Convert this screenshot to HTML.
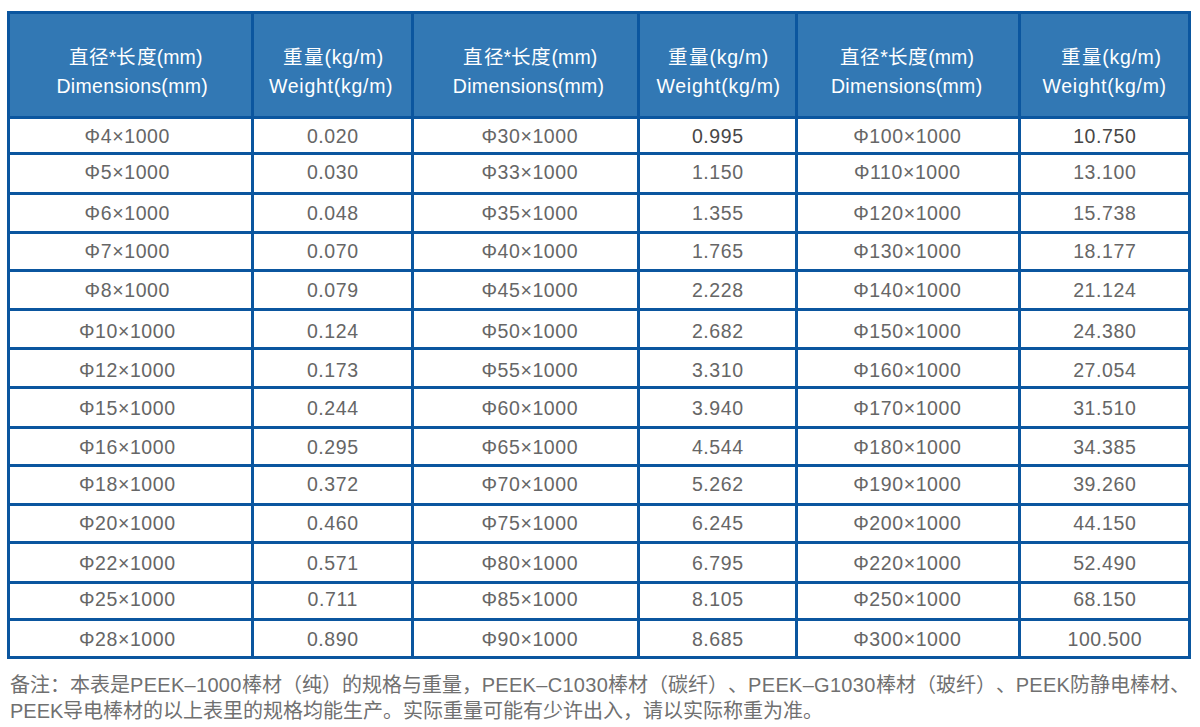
<!DOCTYPE html>
<html lang="zh-CN"><head><meta charset="utf-8">
<style>
html,body{margin:0;padding:0;background:#fff;}
body{width:1200px;height:727px;position:relative;overflow:hidden;font-family:"Liberation Sans",sans-serif;}
.a{position:absolute;}
.b{position:absolute;background:#0b569f;}
.c{position:absolute;text-align:center;white-space:nowrap;color:#666666;font-size:19.5px;line-height:20px;height:20px;letter-spacing:0.6px;}
.h{position:absolute;white-space:nowrap;color:#fff;font-size:19.5px;text-align:center;line-height:20px;height:20px;}
.f{position:absolute;left:10px;white-space:nowrap;color:#707070;font-size:20px;line-height:20px;}
.f span{letter-spacing:0.3px;}
.f{text-spacing-trim:space-all;}
i{display:inline-block;width:20px;font-style:normal;text-align:left;letter-spacing:0;}
</style></head><body>

<div class="a" style="left:7px;top:11px;width:1184px;height:108px;background:#3278b4"></div>
<div class="h" style="left:15.05px;width:241px;top:47.0px;letter-spacing:0.10px"><i style="width:20.10px">直</i><i style="width:20.10px">径</i>*<i style="width:20.10px">长</i><i style="width:20.10px">度</i>(mm)</div>
<div class="h" style="left:11.75px;width:241px;top:76.0px;letter-spacing:0.30px">Dimensions(mm)</div>
<div class="h" style="left:255.00px;width:157px;top:47.0px;letter-spacing:0.69px"><i style="width:20.69px">重</i><i style="width:20.69px">量</i>(kg/m)</div>
<div class="h" style="left:252.67px;width:157px;top:76.0px;letter-spacing:0.73px">Weight(kg/m)</div>
<div class="h" style="left:418.90px;width:223px;top:47.0px;letter-spacing:0.10px"><i style="width:20.10px">直</i><i style="width:20.10px">径</i>*<i style="width:20.10px">长</i><i style="width:20.10px">度</i>(mm)</div>
<div class="h" style="left:417.15px;width:223px;top:76.0px;letter-spacing:0.30px">Dimensions(mm)</div>
<div class="h" style="left:641.14px;width:155px;top:47.0px;letter-spacing:0.69px"><i style="width:20.69px">重</i><i style="width:20.69px">量</i>(kg/m)</div>
<div class="h" style="left:641.16px;width:155px;top:76.0px;letter-spacing:0.73px">Weight(kg/m)</div>
<div class="h" style="left:797.05px;width:220px;top:47.0px;letter-spacing:0.10px"><i style="width:20.10px">直</i><i style="width:20.10px">径</i>*<i style="width:20.10px">长</i><i style="width:20.10px">度</i>(mm)</div>
<div class="h" style="left:796.70px;width:220px;top:76.0px;letter-spacing:0.30px">Dimensions(mm)</div>
<div class="h" style="left:1027.85px;width:167px;top:47.0px;letter-spacing:0.69px"><i style="width:20.69px">重</i><i style="width:20.69px">量</i>(kg/m)</div>
<div class="h" style="left:1021.16px;width:167px;top:76.0px;letter-spacing:0.73px">Weight(kg/m)</div>
<div class="c" style="left:6.80px;width:241px;top:125.5px;">Φ4×1000</div>
<div class="c" style="left:254.30px;width:157px;top:125.5px;">0.020</div>
<div class="c" style="left:418.30px;width:223px;top:125.5px;">Φ30×1000</div>
<div class="c" style="left:640.30px;width:155px;top:125.5px;color:#474747;">0.995</div>
<div class="c" style="left:797.30px;width:220px;top:125.5px;">Φ100×1000</div>
<div class="c" style="left:1021.30px;width:167px;top:125.5px;color:#474747;">10.750</div>
<div class="c" style="left:6.80px;width:241px;top:161.7px;">Φ5×1000</div>
<div class="c" style="left:254.30px;width:157px;top:161.7px;">0.030</div>
<div class="c" style="left:418.30px;width:223px;top:161.7px;">Φ33×1000</div>
<div class="c" style="left:640.30px;width:155px;top:161.7px;">1.150</div>
<div class="c" style="left:797.30px;width:220px;top:161.7px;">Φ110×1000</div>
<div class="c" style="left:1021.30px;width:167px;top:161.7px;">13.100</div>
<div class="c" style="left:6.80px;width:241px;top:202.5px;">Φ6×1000</div>
<div class="c" style="left:254.30px;width:157px;top:202.5px;">0.048</div>
<div class="c" style="left:418.30px;width:223px;top:202.5px;">Φ35×1000</div>
<div class="c" style="left:640.30px;width:155px;top:202.5px;">1.355</div>
<div class="c" style="left:797.30px;width:220px;top:202.5px;">Φ120×1000</div>
<div class="c" style="left:1021.30px;width:167px;top:202.5px;">15.738</div>
<div class="c" style="left:6.80px;width:241px;top:240.5px;">Φ7×1000</div>
<div class="c" style="left:254.30px;width:157px;top:240.5px;">0.070</div>
<div class="c" style="left:418.30px;width:223px;top:240.5px;">Φ40×1000</div>
<div class="c" style="left:640.30px;width:155px;top:240.5px;">1.765</div>
<div class="c" style="left:797.30px;width:220px;top:240.5px;">Φ130×1000</div>
<div class="c" style="left:1021.30px;width:167px;top:240.5px;">18.177</div>
<div class="c" style="left:6.80px;width:241px;top:279.5px;">Φ8×1000</div>
<div class="c" style="left:254.30px;width:157px;top:279.5px;">0.079</div>
<div class="c" style="left:418.30px;width:223px;top:279.5px;">Φ45×1000</div>
<div class="c" style="left:640.30px;width:155px;top:279.5px;">2.228</div>
<div class="c" style="left:797.30px;width:220px;top:279.5px;">Φ140×1000</div>
<div class="c" style="left:1021.30px;width:167px;top:279.5px;">21.124</div>
<div class="c" style="left:6.80px;width:241px;top:320.6px;">Φ10×1000</div>
<div class="c" style="left:254.30px;width:157px;top:320.6px;">0.124</div>
<div class="c" style="left:418.30px;width:223px;top:320.6px;">Φ50×1000</div>
<div class="c" style="left:640.30px;width:155px;top:320.6px;">2.682</div>
<div class="c" style="left:797.30px;width:220px;top:320.6px;">Φ150×1000</div>
<div class="c" style="left:1021.30px;width:167px;top:320.6px;">24.380</div>
<div class="c" style="left:6.80px;width:241px;top:359.6px;">Φ12×1000</div>
<div class="c" style="left:254.30px;width:157px;top:359.6px;">0.173</div>
<div class="c" style="left:418.30px;width:223px;top:359.6px;">Φ55×1000</div>
<div class="c" style="left:640.30px;width:155px;top:359.6px;">3.310</div>
<div class="c" style="left:797.30px;width:220px;top:359.6px;">Φ160×1000</div>
<div class="c" style="left:1021.30px;width:167px;top:359.6px;">27.054</div>
<div class="c" style="left:6.80px;width:241px;top:398.1px;">Φ15×1000</div>
<div class="c" style="left:254.30px;width:157px;top:398.1px;">0.244</div>
<div class="c" style="left:418.30px;width:223px;top:398.1px;">Φ60×1000</div>
<div class="c" style="left:640.30px;width:155px;top:398.1px;">3.940</div>
<div class="c" style="left:797.30px;width:220px;top:398.1px;">Φ170×1000</div>
<div class="c" style="left:1021.30px;width:167px;top:398.1px;">31.510</div>
<div class="c" style="left:6.80px;width:241px;top:437.1px;">Φ16×1000</div>
<div class="c" style="left:254.30px;width:157px;top:437.1px;">0.295</div>
<div class="c" style="left:418.30px;width:223px;top:437.1px;">Φ65×1000</div>
<div class="c" style="left:640.30px;width:155px;top:437.1px;">4.544</div>
<div class="c" style="left:797.30px;width:220px;top:437.1px;">Φ180×1000</div>
<div class="c" style="left:1021.30px;width:167px;top:437.1px;">34.385</div>
<div class="c" style="left:6.80px;width:241px;top:474.3px;">Φ18×1000</div>
<div class="c" style="left:254.30px;width:157px;top:474.3px;">0.372</div>
<div class="c" style="left:418.30px;width:223px;top:474.3px;">Φ70×1000</div>
<div class="c" style="left:640.30px;width:155px;top:474.3px;">5.262</div>
<div class="c" style="left:797.30px;width:220px;top:474.3px;">Φ190×1000</div>
<div class="c" style="left:1021.30px;width:167px;top:474.3px;">39.260</div>
<div class="c" style="left:6.80px;width:241px;top:512.8px;">Φ20×1000</div>
<div class="c" style="left:254.30px;width:157px;top:512.8px;">0.460</div>
<div class="c" style="left:418.30px;width:223px;top:512.8px;">Φ75×1000</div>
<div class="c" style="left:640.30px;width:155px;top:512.8px;">6.245</div>
<div class="c" style="left:797.30px;width:220px;top:512.8px;">Φ200×1000</div>
<div class="c" style="left:1021.30px;width:167px;top:512.8px;">44.150</div>
<div class="c" style="left:6.80px;width:241px;top:552.5px;">Φ22×1000</div>
<div class="c" style="left:254.30px;width:157px;top:552.5px;">0.571</div>
<div class="c" style="left:418.30px;width:223px;top:552.5px;">Φ80×1000</div>
<div class="c" style="left:640.30px;width:155px;top:552.5px;">6.795</div>
<div class="c" style="left:797.30px;width:220px;top:552.5px;">Φ220×1000</div>
<div class="c" style="left:1021.30px;width:167px;top:552.5px;">52.490</div>
<div class="c" style="left:6.80px;width:241px;top:589.4px;">Φ25×1000</div>
<div class="c" style="left:254.30px;width:157px;top:589.4px;">0.711</div>
<div class="c" style="left:418.30px;width:223px;top:589.4px;">Φ85×1000</div>
<div class="c" style="left:640.30px;width:155px;top:589.4px;">8.105</div>
<div class="c" style="left:797.30px;width:220px;top:589.4px;">Φ250×1000</div>
<div class="c" style="left:1021.30px;width:167px;top:589.4px;">68.150</div>
<div class="c" style="left:6.80px;width:241px;top:628.5px;">Φ28×1000</div>
<div class="c" style="left:254.30px;width:157px;top:628.5px;">0.890</div>
<div class="c" style="left:418.30px;width:223px;top:628.5px;">Φ90×1000</div>
<div class="c" style="left:640.30px;width:155px;top:628.5px;">8.685</div>
<div class="c" style="left:797.30px;width:220px;top:628.5px;">Φ300×1000</div>
<div class="c" style="left:1021.30px;width:167px;top:628.5px;">100.500</div>
<div class="b" style="left:7px;top:11px;width:3px;height:648px"></div>
<div class="b" style="left:251px;top:11px;width:3px;height:648px"></div>
<div class="b" style="left:411px;top:11px;width:3px;height:648px"></div>
<div class="b" style="left:637px;top:11px;width:3px;height:648px"></div>
<div class="b" style="left:795px;top:11px;width:3px;height:648px"></div>
<div class="b" style="left:1018px;top:11px;width:3px;height:648px"></div>
<div class="b" style="left:1188px;top:11px;width:3px;height:648px"></div>
<div class="b" style="left:7px;top:11px;width:1184px;height:3px"></div>
<div class="b" style="left:7px;top:116px;width:1184px;height:3px"></div>
<div class="b" style="left:7px;top:152px;width:1184px;height:3px"></div>
<div class="b" style="left:7px;top:192px;width:1184px;height:3px"></div>
<div class="b" style="left:7px;top:231px;width:1184px;height:3px"></div>
<div class="b" style="left:7px;top:269px;width:1184px;height:3px"></div>
<div class="b" style="left:7px;top:308px;width:1184px;height:3px"></div>
<div class="b" style="left:7px;top:347px;width:1184px;height:3px"></div>
<div class="b" style="left:7px;top:386px;width:1184px;height:3px"></div>
<div class="b" style="left:7px;top:426px;width:1184px;height:3px"></div>
<div class="b" style="left:7px;top:464px;width:1184px;height:3px"></div>
<div class="b" style="left:7px;top:503px;width:1184px;height:3px"></div>
<div class="b" style="left:7px;top:541px;width:1184px;height:3px"></div>
<div class="b" style="left:7px;top:581px;width:1184px;height:3px"></div>
<div class="b" style="left:7px;top:618px;width:1184px;height:3px"></div>
<div class="b" style="left:7px;top:656px;width:1184px;height:3px"></div>
<div class="f" style="top:674.5px"><i>备</i><i>注</i><i>：</i><i>本</i><i>表</i><i>是</i><span>PEEK–1000</span><i>棒</i><i>材</i><i>（</i><i>纯</i><i>）</i><i>的</i><i>规</i><i>格</i><i>与</i><i>重</i><i>量</i><i>，</i><span>PEEK–C1030</span><i>棒</i><i>材</i><i>（</i><i>碳</i><i>纤</i><i>）</i><i>、</i><span>PEEK–G1030</span><i>棒</i><i>材</i><i>（</i><i>玻</i><i>纤</i><i>）</i><i>、</i><span>PEEK</span><i>防</i><i>静</i><i>电</i><i>棒</i><i>材</i><i>、</i></div>
<div class="f" style="top:700.75px">PEEK<i>导</i><i>电</i><i>棒</i><i>材</i><i>的</i><i>以</i><i>上</i><i>表</i><i>里</i><i>的</i><i>规</i><i>格</i><i>均</i><i>能</i><i>生</i><i>产</i><i>。</i><i>实</i><i>际</i><i>重</i><i>量</i><i>可</i><i>能</i><i>有</i><i>少</i><i>许</i><i>出</i><i>入</i><i>，</i><i>请</i><i>以</i><i>实</i><i>际</i><i>称</i><i>重</i><i>为</i><i>准</i><i>。</i></div>
</body></html>
